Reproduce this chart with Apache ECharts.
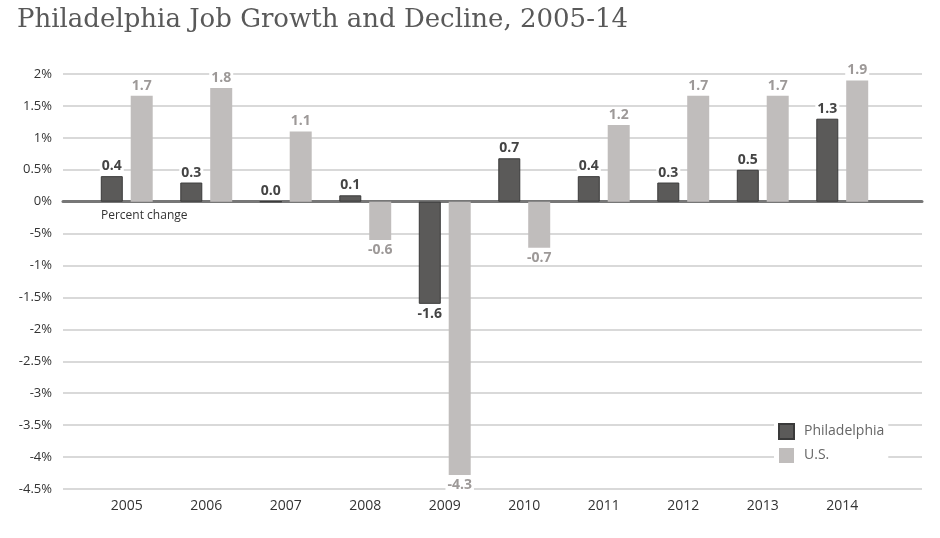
<!DOCTYPE html>
<html>
<head>
<meta charset="utf-8">
<script src="https://cdn.jsdelivr.net/npm/echarts@6/dist/echarts.min.js"></script>
<style>html,body{margin:0;padding:0;background:#fff;}#c{width:940px;height:538px;}</style>
</head>
<body>
<div id="c"></div>
<script>
var years = ['2005','2006','2007','2008','2009','2010','2011','2012','2013','2014'];
var philadelphia = [0.4, 0.3, 0.0, 0.1, -1.6, 0.68, 0.4, 0.3, 0.5, 1.3];
var us = [1.66, 1.78, 1.1, -0.6, -4.28, -0.72, 1.2, 1.66, 1.66, 1.9];
var yTickValues = [2, 1.5, 1, 0.5, 0, -0.5, -1, -1.5, -2, -2.5, -3, -3.5, -4, -4.5];
var yTickLabels = ['2%','1.5%','1%','0.5%','0%','-5%','-1%','-1.5%','-2%','-2.5%','-3%','-3.5%','-4%','-4.5%'];

function tickLabel(v){
  for (var i = 0; i < yTickValues.length; i++) {
    if (Math.abs(yTickValues[i] - v) < 1e-6) return yTickLabels[i];
  }
  return '';
}

function items(arr){
  return arr.map(function(v){
    return {
      value: v,
      label: { position: v < 0 ? 'bottom' : 'top' }
    };
  });
}

var chart = echarts.init(document.getElementById('c'), null, {renderer:'canvas'});
var option = {
  backgroundColor: '#fff',
  animation: false,
  title: {
    text: 'Philadelphia Job Growth and Decline, 2005-14',
    left: 12, top: 2,
    textStyle: { fontFamily: 'DejaVu Serif', fontWeight: 'normal', fontSize: 26, color: '#595959' }
  },
  legend: {
    orient: 'vertical',
    left: 774, top: 421,
    itemWidth: 15, itemHeight: 15, itemGap: 8,
    icon: 'rect',
    backgroundColor: '#fff',
    padding: [2, 4, 2, 4],
    textStyle: { fontFamily: 'Open Sans', fontSize: 14, color: '#666', padding: [0, 0, 0, 5] },
    data: ['Philadelphia', 'U.S.']
  },
  graphic: [{
    type: 'text', left: 101, top: 210,
    style: { text: 'Percent change', fontFamily: 'Open Sans', fontSize: 12, fill: '#333' }
  }],
  grid: [
    { left: 87, right: 58, top: 74, bottom: 49 },
    { left: 63, right: 18, top: 74, bottom: 49 }
  ],
  xAxis: [
    {
      type: 'category', gridIndex: 0, data: years,
      axisLine: { show: false }, axisTick: { show: false },
      axisLabel: { fontFamily: 'Open Sans', fontSize: 14, color: '#333', margin: 10 },
      position: 'bottom'
    },
    {
      type: 'value', gridIndex: 1, min: 0, max: 1,
      axisLine: { show: true, onZero: true, lineStyle: { color: '#777', width: 3 } },
      axisTick: { show: false }, axisLabel: { show: false }, splitLine: { show: false }
    }
  ],
  yAxis: [
    {
      type: 'value', gridIndex: 0, min: -4.5, max: 2, interval: 0.5,
      axisLine: { show: false }, axisTick: { show: false },
      axisLabel: { show: false }, splitLine: { show: false }
    },
    {
      type: 'value', gridIndex: 1, min: -4.5, max: 2, interval: 0.5,
      axisLine: { show: false }, axisTick: { show: false },
      axisLabel: { fontFamily: 'Open Sans', fontSize: 13, color: '#333', margin: 11, formatter: tickLabel },
      splitLine: { show: true, lineStyle: { color: '#cccccc', width: 1.5 } }
    }
  ],
  series: [
    {
      name: 'Philadelphia', type: 'bar', xAxisIndex: 0, yAxisIndex: 0,
      data: items(philadelphia),
      barWidth: 22, barGap: '36%',
      itemStyle: { color: '#5b5a59', borderColor: '#3a3a3a', borderWidth: 1 },
      label: {
        show: true, distance: 3,
        formatter: function(p){ return p.value.toFixed(1); },
        fontFamily: 'Open Sans', fontWeight: 'bold', fontSize: 14, color: '#444',
        backgroundColor: '#fff', padding: [0, 2, 0, 2]
      },
      z: 3
    },
    {
      name: 'U.S.', type: 'bar', xAxisIndex: 0, yAxisIndex: 0,
      data: items(us),
      barWidth: 22, barGap: '36%',
      itemStyle: { color: '#c0bdbc' },
      label: {
        show: true, distance: 3,
        formatter: function(p){ return p.value.toFixed(1); },
        fontFamily: 'Open Sans', fontWeight: 'bold', fontSize: 14, color: '#9d9998',
        backgroundColor: '#fff', padding: [0, 2, 0, 2]
      },
      z: 3
    }
  ]
};
chart.setOption(option);
</script>
</body>
</html>
